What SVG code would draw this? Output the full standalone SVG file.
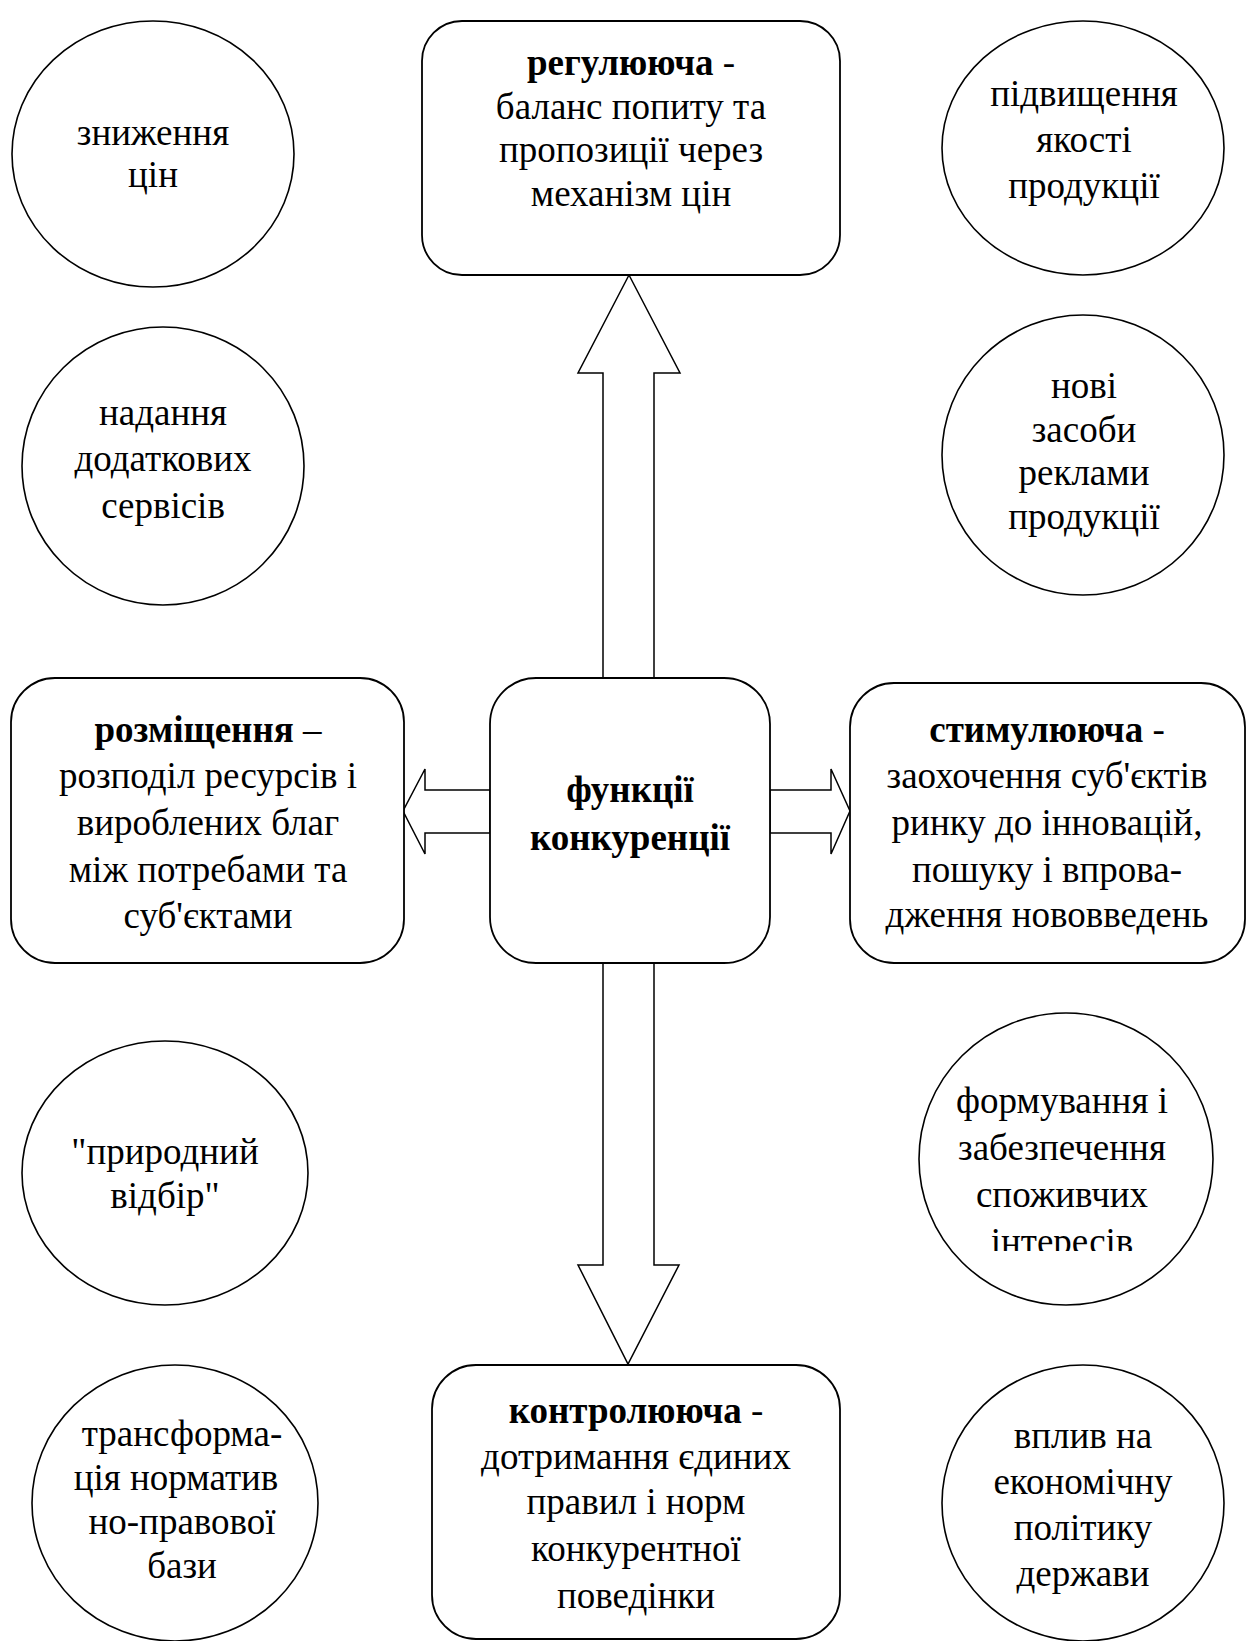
<svg xmlns="http://www.w3.org/2000/svg" width="1253" height="1641" viewBox="0 0 1253 1641">
<style>
.box{fill:#fff;stroke:#000;stroke-width:1.8}
.ell{fill:#fff;stroke:#000;stroke-width:1.6}
.arr{fill:#fff;stroke:#000;stroke-width:1.5;stroke-linejoin:miter}
text{font-family:"Liberation Serif","Times New Roman",serif;font-size:37px;fill:#000;text-anchor:middle}
.b{font-weight:bold}
</style>
<defs>
<clipPath id="clipInt"><rect x="900" y="1000" width="330" height="251"/></clipPath>
</defs>
<rect width="1253" height="1641" fill="#fff"/>
<g id="connectors">
<polygon class="arr" points="603,678 603,373 578,373 629,275 680,373 654,373 654,678"/>
<polygon class="arr" points="603,963 603,1265 578,1265 628,1364 679,1265 654,1265 654,963"/>
<polygon class="arr" points="490,790 425,790 425,769 403,811 425,854 425,833 490,833"/>
<polygon class="arr" points="770,790 831,790 831,769 850,811 831,854 831,833 770,833"/>
</g>
<g id="node-top">
<rect class="box" x="422" y="21" width="418" height="254" rx="40"/>
<text x="631" y="75"><tspan class="b">регулююча</tspan> -</text>
<text x="631" y="119">баланс попиту та</text>
<text x="631" y="162">пропозиції через</text>
<text x="631" y="206">механізм цін</text>
</g>
<g id="node-center">
<rect class="box" x="490" y="678" width="280" height="285" rx="46"/>
<text class="b" x="630" y="802">функції</text>
<text class="b" x="630" y="850">конкуренції</text>
</g>
<g id="node-left">
<rect class="box" x="11" y="678" width="393" height="285" rx="44"/>
<text x="208" y="742"><tspan class="b">розміщення</tspan> –</text>
<text x="208" y="788">розподіл ресурсів і</text>
<text x="208" y="835">вироблених благ</text>
<text x="208" y="882">між потребами та</text>
<text x="208" y="928">суб'єктами</text>
</g>
<g id="node-right">
<rect class="box" x="850" y="683" width="395" height="280" rx="44"/>
<text x="1047" y="742"><tspan class="b">стимулююча</tspan> -</text>
<text x="1047" y="788">заохочення суб'єктів</text>
<text x="1047" y="835">ринку до інновацій,</text>
<text x="1047" y="882">пошуку і впрова-</text>
<text x="1047" y="927">дження нововведень</text>
</g>
<g id="node-bottom">
<rect class="box" x="432" y="1365" width="408" height="274" rx="44"/>
<text x="636" y="1423"><tspan class="b">контролююча</tspan> -</text>
<text x="636" y="1469">дотримання єдиних</text>
<text x="636" y="1514">правил і норм</text>
<text x="636" y="1561">конкурентної</text>
<text x="636" y="1608">поведінки</text>
</g>
<g id="circle-1">
<ellipse class="ell" cx="153" cy="154" rx="141" ry="133"/>
<text x="153" y="145">зниження</text>
<text x="153" y="187">цін</text>
</g>
<g id="circle-2">
<ellipse class="ell" cx="163" cy="466" rx="141" ry="139"/>
<text x="163" y="425">надання</text>
<text x="163" y="471">додаткових</text>
<text x="163" y="518">сервісів</text>
</g>
<g id="circle-3">
<ellipse class="ell" cx="1083" cy="148" rx="141" ry="127"/>
<text x="1084" y="106">підвищення</text>
<text x="1084" y="152">якості</text>
<text x="1084" y="198">продукції</text>
</g>
<g id="circle-4">
<ellipse class="ell" cx="1083" cy="455" rx="141" ry="140"/>
<text x="1084" y="398">нові</text>
<text x="1084" y="442">засоби</text>
<text x="1084" y="485">реклами</text>
<text x="1084" y="529">продукції</text>
</g>
<g id="circle-5">
<ellipse class="ell" cx="165" cy="1173" rx="143" ry="132"/>
<text x="165" y="1164">"природний</text>
<text x="165" y="1208">відбір"</text>
</g>
<g id="circle-6">
<ellipse class="ell" cx="175" cy="1503" rx="143" ry="138"/>
<text x="182" y="1446">трансформа-</text>
<text x="176" y="1490">ція норматив</text>
<text x="182" y="1534">но-правової</text>
<text x="182" y="1578">бази</text>
</g>
<g id="circle-7">
<ellipse class="ell" cx="1066" cy="1159" rx="147" ry="146"/>
<text x="1062" y="1113">формування і</text>
<text x="1062" y="1160">забезпечення</text>
<text x="1062" y="1207">споживчих</text>
<text x="1062" y="1254" clip-path="url(#clipInt)">інтересів</text>
</g>
<g id="circle-8">
<ellipse class="ell" cx="1083" cy="1503" rx="141" ry="138"/>
<text x="1083" y="1448">вплив на</text>
<text x="1083" y="1494">економічну</text>
<text x="1083" y="1540">політику</text>
<text x="1083" y="1586">держави</text>
</g>
</svg>
